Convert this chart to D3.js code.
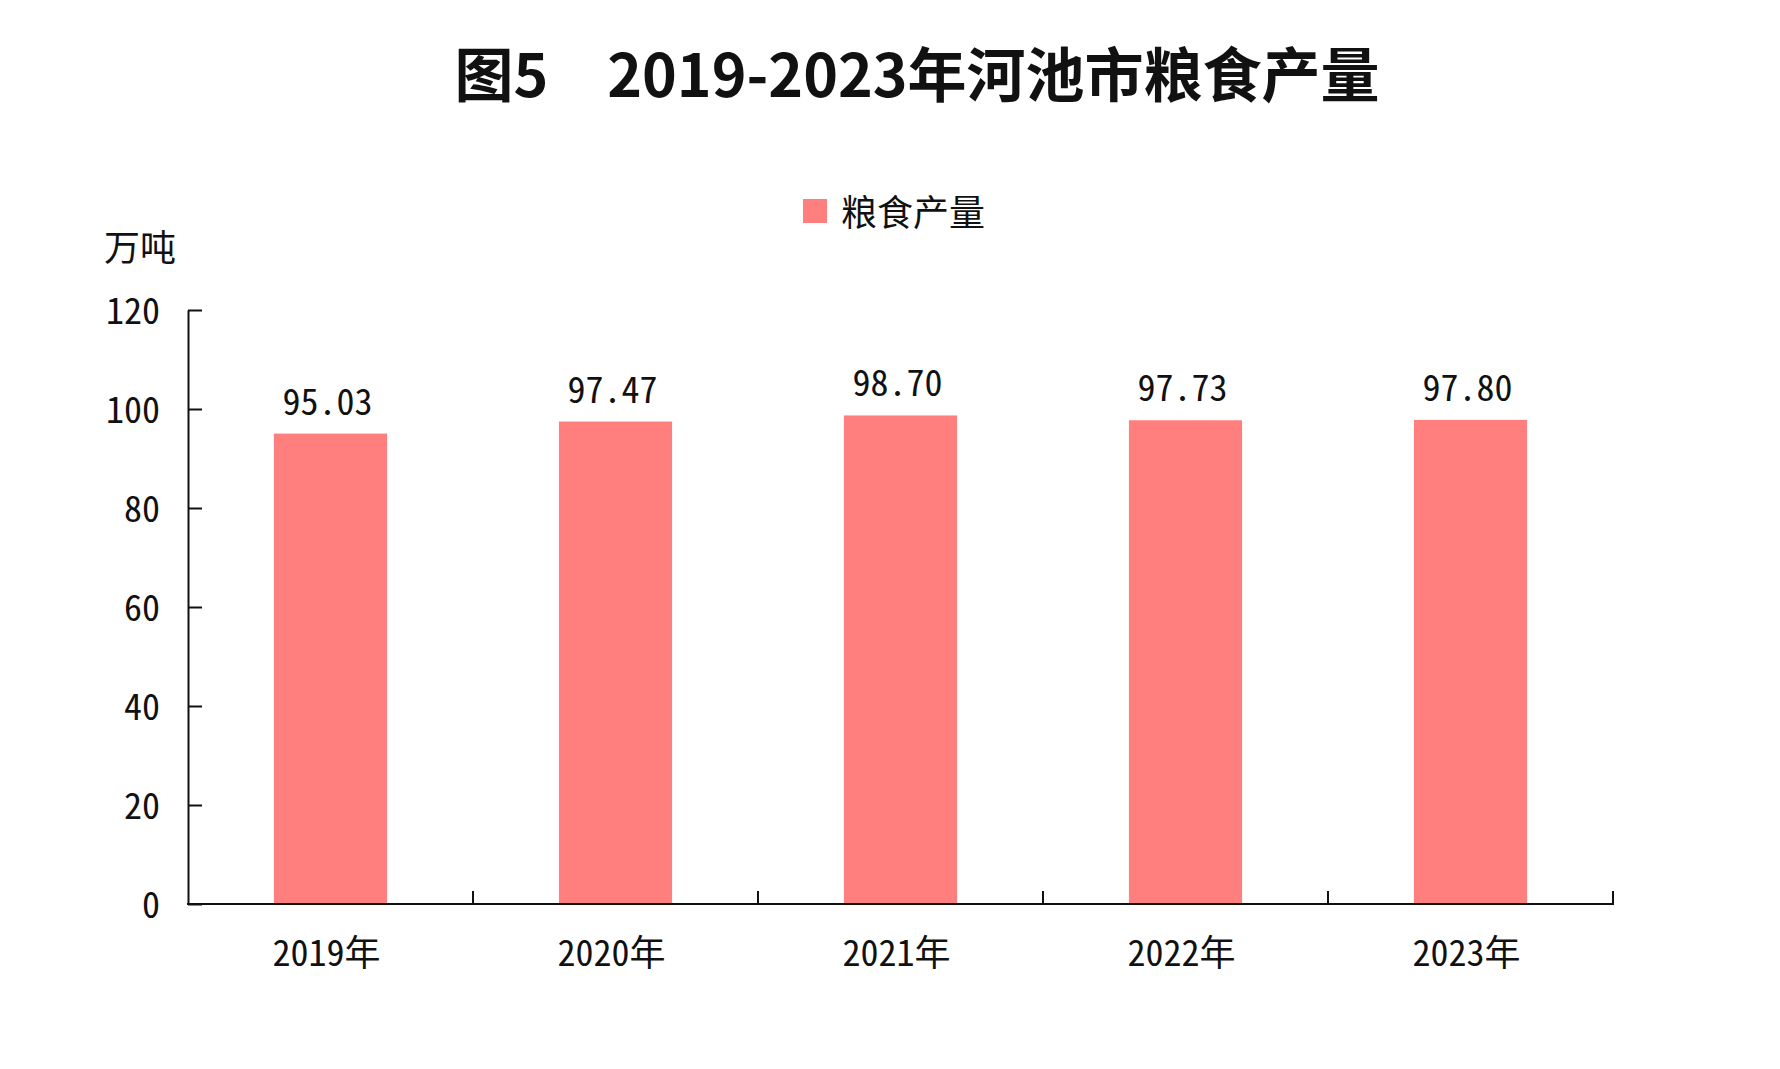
<!DOCTYPE html>
<html>
<head>
<meta charset="utf-8">
<script src="https://cdn.jsdelivr.net/npm/d3@7"></script>
<style>
html,body{margin:0;padding:0;background:#fff;}
svg{display:block;}
</style>
</head>
<body>
<svg id="chart" width="1780" height="1069"></svg>
<script>
const titleText = "图5\u30002019-2023年河池市粮食产量";
const unitLabel = "万吨";
const seriesName = "粮食产量";
const categories = ["2019年", "2020年", "2021年", "2022年", "2023年"];
const values = [95.03, 97.47, 98.70, 97.73, 97.80];
const valueLabels = ["95.03", "97.47", "98.70", "97.73", "97.80"];
const yTicks = [0, 20, 40, 60, 80, 100, 120];

(function () {
const barColor = "#FF7F7F";
const axisColor = "#111";
const monoFont = "'Noto Sans Mono CJK SC','DejaVu Sans Mono',monospace";
const cjkFont = "'Noto Sans CJK SC','Noto Sans',sans-serif";

const svg = d3.select("#chart");
const plotLeft = 188, plotRight = 1613, plotTop = 310, plotBottom = 904;

const x = d3.scaleBand().domain(categories).range([plotLeft, plotRight]).padding(0);
const y = d3.scaleLinear().domain([0, 120]).range([plotBottom, plotTop]);
const barW = x.bandwidth() * 0.397;

// title
svg.append("text")
  .attr("x", 917).attr("y", 71)
  .attr("text-anchor", "middle").attr("dominant-baseline", "central")
  .style("font-family", cjkFont).style("font-weight", 700).style("font-size", "59px")
  .attr("fill", "#111")
  .text(titleText);

// legend
const lg = svg.append("g");
lg.append("rect").attr("x", 803).attr("y", 199).attr("width", 24).attr("height", 24).attr("fill", barColor);
lg.append("text").attr("x", 841).attr("y", 210)
  .attr("dominant-baseline", "central")
  .style("font-family", cjkFont).style("font-size", "36px").attr("fill", "#111")
  .text(seriesName);

// unit label
svg.append("text").attr("x", 104).attr("y", 245)
  .attr("dominant-baseline", "central")
  .style("font-family", cjkFont).style("font-size", "36px").attr("fill", "#111")
  .text(unitLabel);

// bars
svg.append("g").selectAll("rect").data(values).join("rect")
  .attr("x", (d, i) => x(categories[i]) + x.bandwidth() / 2 - barW / 2)
  .attr("y", d => y(d))
  .attr("width", barW)
  .attr("height", d => y(0) - y(d))
  .attr("fill", barColor);

// value labels
svg.append("g").selectAll("text").data(values).join("text")
  .attr("x", (d, i) => x(categories[i]) + x.bandwidth() / 2 - 3)
  .attr("y", d => y(d) - 19)
  .attr("text-anchor", "middle")
  .style("font-family", monoFont).style("font-size", "36px").attr("fill", "#111")
  .text((d, i) => valueLabels[i]);

// y axis
const yAxis = svg.append("g").attr("transform", `translate(${plotLeft},0)`)
  .call(d3.axisLeft(y).tickValues(yTicks).tickSizeInner(-14).tickSizeOuter(0).tickPadding(28).tickFormat(d3.format("d")));
yAxis.select(".domain").attr("stroke", axisColor).attr("stroke-width", 2);
yAxis.selectAll(".tick line").attr("stroke", axisColor).attr("stroke-width", 2);
yAxis.selectAll(".tick text")
  .style("font-family", monoFont).style("font-size", "36px").attr("fill", "#111")
  .attr("dy", "-3").attr("dominant-baseline", "central");

// x axis
const xg = svg.append("g");
xg.append("line").attr("x1", plotLeft - 1).attr("x2", plotRight + 1).attr("y1", y(0)).attr("y2", y(0))
  .attr("stroke", axisColor).attr("stroke-width", 2);
xg.selectAll("line.tk").data(categories).join("line").attr("class", "tk")
  .attr("x1", d => x(d) + x.bandwidth()).attr("x2", d => x(d) + x.bandwidth())
  .attr("y1", y(0)).attr("y2", y(0) - 13)
  .attr("stroke", axisColor).attr("stroke-width", 2);
xg.selectAll("text").data(categories).join("text")
  .attr("x", d => x(d) + x.bandwidth() / 2 - 4)
  .attr("y", 950)
  .attr("text-anchor", "middle").attr("dominant-baseline", "central")
  .style("font-family", monoFont).style("font-size", "36px").attr("fill", "#111")
  .text(d => d);
})();
</script>
</body>
</html>
